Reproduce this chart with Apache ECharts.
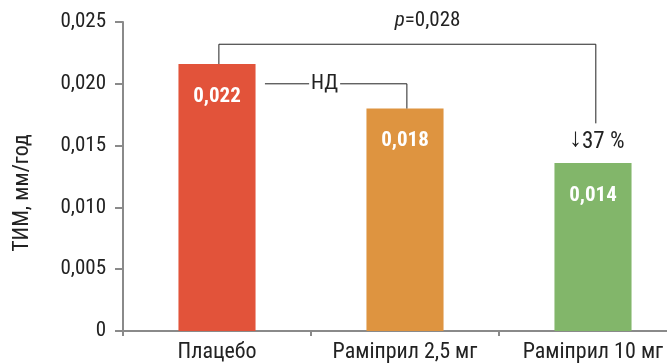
<!DOCTYPE html>
<html>
<head>
<meta charset="utf-8">
<script src="https://cdn.jsdelivr.net/npm/echarts@6/dist/echarts.min.js"></script>
<style>
html,body{margin:0;padding:0;background:#fff;}
#chart{width:667px;height:363px;}
</style>
</head>
<body>
<div id="chart"></div>
<script>
// ---- data ----
var categories = ['Плацебо', 'Раміприл 2,5 мг', 'Раміприл 10 мг'];
var values = [0.0216, 0.018, 0.0136];
var valueLabels = ['0,022', '0,018', '0,014'];
var barColors = ['#E2533A', '#DE9440', '#82B66A'];
var yTicks = [0, 0.005, 0.010, 0.015, 0.020, 0.025];
var yTickLabels = ['0', '0,005', '0,010', '0,015', '0,020', '0,025'];
var yAxisTitle = 'ТИМ, мм/год';
var pText = 'p=0,028';
var pBracketTop = 0.0232;     // height of p bracket
var pBracketRightEnd = 0.0168; // end of right leg
var ndText = 'НД';
var ndBracketLevel = 0.0200;
var reductionArrow = '↓';
var reductionText = '37 %';

var FONT = '"Liberation Sans Narrow", "Roboto Condensed", "Liberation Sans", Arial, sans-serif';

var chart = echarts.init(document.getElementById('chart'));

function annotRender(params, api) {
  var bw = api.size([1, 0])[0];
  function P(cat, frac, v) {
    var c = api.coord([cat, v]);
    return [c[0] + frac * bw, c[1]];
  }
  var lineStyle = {stroke: '#222', lineWidth: 1, fill: null};
  // p bracket
  var a = P(0, 0.01, values[0]);
  var b = P(0, 0.01, pBracketTop);
  var c = P(2, 0.015, pBracketTop);
  var d = P(2, 0.015, pBracketRightEnd);
  // ND bracket
  var e = P(0, 0.255, ndBracketLevel);
  var f = P(0, 0.49, ndBracketLevel);
  var g = P(1, -0.345, ndBracketLevel);
  var h = P(1, 0.01, ndBracketLevel);
  var i = P(1, 0.01, values[1]);
  var txtP = P(1, 0.12, 0.0251);
  var txtND = P(0, 0.572, ndBracketLevel);
  var txtR = P(2, 0.02, 0.0153);
  return {
    type: 'group',
    children: [
      {type: 'polyline', shape: {points: [a, b, c, d]}, style: lineStyle},
      {type: 'polyline', shape: {points: [e, f]}, style: lineStyle},
      {type: 'polyline', shape: {points: [g, h, i]}, style: lineStyle},
      {type: 'text', x: txtP[0], y: txtP[1], style: {
        text: '{i|p}{n|' + pText.slice(1) + '}',
        rich: {
          i: {fontFamily: FONT, fontSize: 21, fontStyle: 'italic', fill: '#222'},
          n: {fontFamily: FONT, fontSize: 21, fill: '#222'}
        },
        align: 'center', verticalAlign: 'middle'}},
      {type: 'text', x: txtND[0], y: txtND[1], style: {
        text: ndText, fontFamily: FONT, fontSize: 21, fill: '#222',
        align: 'center', verticalAlign: 'middle'}},
      {type: 'text', x: txtR[0], y: txtR[1], style: {
        text: '{a|' + reductionArrow + '}{n|' + reductionText + '}',
        rich: {
          a: {fontFamily: '"Liberation Sans", sans-serif', fontSize: 26, fill: '#222', padding: [0, 0, 6, 0]},
          n: {fontFamily: FONT, fontSize: 23, fill: '#222'}
        },
        align: 'center', verticalAlign: 'middle'}}
    ]
  };
}

var option = {
  animation: false,
  backgroundColor: '#fff',
  grid: {left: 123, width: 564, top: 22, bottom: 32, containLabel: false, outerBoundsMode: 'none'},
  xAxis: {
    type: 'category',
    data: categories,
    axisLine: {lineStyle: {color: '#8a8a8a', width: 2}},
    axisTick: {show: true, length: 5, lineStyle: {color: '#8a8a8a', width: 2}},
    axisLabel: {color: '#222', fontFamily: FONT, fontSize: 22, margin: 10, interval: 0, hideOverlap: false}
  },
  yAxis: {
    type: 'value',
    min: 0, max: 0.025, interval: 0.005,
    axisLine: {show: true, lineStyle: {color: '#8a8a8a', width: 2}},
    axisTick: {show: true, length: 8, lineStyle: {color: '#8a8a8a', width: 2}},
    splitLine: {show: false},
    axisLabel: {
      color: '#222', fontFamily: FONT, fontSize: 21, margin: 17,
      formatter: function (v) {
        for (var k = 0; k < yTicks.length; k++) {
          if (Math.abs(yTicks[k] - v) < 1e-9) return yTickLabels[k];
        }
        return '';
      }
    }
  },
  graphic: [{
    type: 'text', x: 22, y: 193, rotation: Math.PI / 2,
    style: {text: yAxisTitle, fontFamily: FONT, fontSize: 22, fill: '#222',
      align: 'center', verticalAlign: 'middle'}
  }],
  series: [{
    type: 'bar',
    barWidth: '41%',
    data: values.map(function (v, k) {
      return {value: v, itemStyle: {color: barColors[k]}, label: {formatter: valueLabels[k]}};
    }),
    label: {
      show: true, position: 'insideTop', distance: 22,
      color: '#fff', fontFamily: FONT, fontWeight: 'bold', fontSize: 21
    }
  }, {
    type: 'custom',
    renderItem: annotRender,
    data: [0],
    silent: true,
    z: 5
  }]
};
chart.setOption(option);
</script>
</body>
</html>
